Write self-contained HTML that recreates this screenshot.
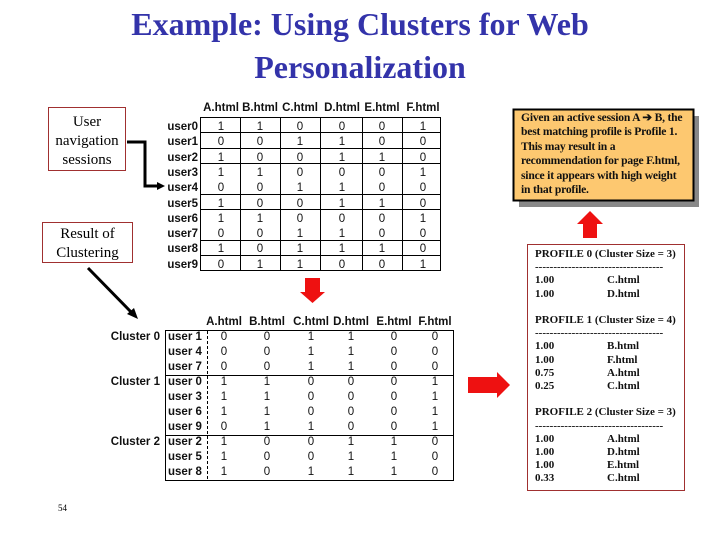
<!DOCTYPE html>
<html><head><meta charset="utf-8"><style>
body{margin:0;width:720px;height:540px;background:#fff;position:relative;overflow:hidden;font-family:"Liberation Serif",serif}
.a{position:absolute}
.t{font-family:"Liberation Sans",sans-serif;font-size:11.5px;color:#111}
.title{left:0;width:720px;text-align:center;color:#3333aa;font-size:32px;line-height:43px;font-weight:bold}
.box{border:1px solid #a03030;background:#fff;text-align:center;font-size:15px;line-height:19px}
.c{text-align:center;width:30px}
.pr{font-weight:bold;font-size:11px;line-height:13.2px;color:#111}
</style></head><body>
<div class="a title" style="top:3px">Example: Using Clusters for Web<br>Personalization</div>

<div class="a box" style="left:48px;top:107px;width:78px;height:64px;padding-top:5px;box-sizing:border-box">User<br>navigation<br>sessions</div>
<div class="a box" style="left:42px;top:222px;width:91px;height:41px;padding-top:2px;box-sizing:border-box">Result of<br>Clustering</div>

<svg class="a" style="left:0;top:0" width="720" height="540">
<polyline points="127,142 145,142 145,186 158,186" fill="none" stroke="#000" stroke-width="3"/>
<polygon points="157,182 165,186 157,190" fill="#000"/>
<line x1="88" y1="268" x2="132" y2="313" stroke="#000" stroke-width="3"/>
<polygon points="127,314 138,319 134,308" fill="#000"/>
<rect x="200.5" y="117.5" width="240" height="153" fill="none" stroke="#000"/>
<g stroke="#000">
<line x1="240.5" y1="117" x2="240.5" y2="270"/><line x1="280.5" y1="117" x2="280.5" y2="270"/>
<line x1="320.5" y1="117" x2="320.5" y2="270"/><line x1="362.5" y1="117" x2="362.5" y2="270"/>
<line x1="402.5" y1="117" x2="402.5" y2="270"/>
<line x1="200" y1="132.5" x2="440" y2="132.5"/><line x1="200" y1="148.5" x2="440" y2="148.5"/>
<line x1="200" y1="163.5" x2="440" y2="163.5"/><line x1="200" y1="194.5" x2="440" y2="194.5"/>
<line x1="200" y1="209.5" x2="440" y2="209.5"/><line x1="200" y1="240.5" x2="440" y2="240.5"/>
<line x1="200" y1="255.5" x2="440" y2="255.5"/>
</g>
<rect x="165.5" y="330.5" width="288" height="150" fill="none" stroke="#000"/>
<line x1="165" y1="375.5" x2="453" y2="375.5" stroke="#000"/>
<line x1="165" y1="435.5" x2="453" y2="435.5" stroke="#000"/>
<line x1="207.5" y1="331" x2="207.5" y2="480" stroke="#000" stroke-dasharray="3,2"/>
<polygon points="305,278 320,278 320,292 325,292 312.5,303 300,292 305,292" fill="#ee1111"/>
<polygon points="468,377 497,377 497,372 510,385 497,398 497,393 468,393" fill="#ee1111"/>
<polygon points="583,238 597,238 597,224 603,224 590,211 577,224 583,224" fill="#ee1111"/>
<rect x="519" y="116" width="180" height="91" fill="#888"/>
<rect x="513.5" y="109.5" width="180" height="91" fill="#fdc870" stroke="#000" stroke-width="2"/>
<rect x="527.5" y="244.5" width="157" height="246" fill="#fff" stroke="#a03030"/>
</svg>

<div class="a pr" style="left:521px;top:111px;width:166px;font-size:11.6px;line-height:14.4px;letter-spacing:-0.2px">Given an active session A &#x2794; B, the best matching profile is Profile 1. This may result in a recommendation for page F.html, since it appears with high weight in that profile.</div>

<div class="a pr" style="left:535px;top:248px;width:150px">
PROFILE 0 (Cluster Size = 3)<br>-----------------------------------<br>
1.00<span style="position:absolute;left:72px">C.html</span><br>1.00<span style="position:absolute;left:72px">D.html</span><br><br>
PROFILE 1 (Cluster Size = 4)<br>-----------------------------------<br>
1.00<span style="position:absolute;left:72px">B.html</span><br>1.00<span style="position:absolute;left:72px">F.html</span><br>
0.75<span style="position:absolute;left:72px">A.html</span><br>0.25<span style="position:absolute;left:72px">C.html</span><br><br>
PROFILE 2 (Cluster Size = 3)<br>-----------------------------------<br>
1.00<span style="position:absolute;left:72px">A.html</span><br>1.00<span style="position:absolute;left:72px">D.html</span><br>
1.00<span style="position:absolute;left:72px">E.html</span><br>0.33<span style="position:absolute;left:72px">C.html</span>
</div>

<div class="a" style="left:58px;top:503px;font-size:9px">54</div>

<div id="top"></div>
<script>
(function(){
var h=["A.html","B.html","C.html","D.html","E.html","F.html"];
var d=["110001","001100","100110","110001","001100","100110","110001","001100","101110","011001"];
var cx=[221,260,300,342,382,423],s="";
for(var j=0;j<6;j++)s+='<div class="a t" style="left:'+(cx[j]-25)+'px;top:102px;width:50px;text-align:center;font-weight:bold">'+h[j]+'</div>';
for(var i=0;i<10;i++){var y=121+i*15.3;
s+='<div class="a t" style="left:150px;top:'+y+'px;width:48px;text-align:right;font-weight:bold">user'+i+'</div>';
for(var j=0;j<6;j++)s+='<div class="a t c" style="left:'+(cx[j]-15)+'px;top:'+y+'px">'+d[i][j]+'</div>';}
var cx2=[224,267,311,351,394,435];
var u=[1,4,7,0,3,6,9,2,5,8];
for(var j=0;j<6;j++)s+='<div class="a t" style="left:'+(cx2[j]-25)+'px;top:316px;width:50px;text-align:center;font-weight:bold">'+h[j]+'</div>';
for(var i=0;i<10;i++){var y=331+i*15;
s+='<div class="a t" style="left:168px;top:'+y+'px;font-weight:bold">user '+u[i]+'</div>';
for(var j=0;j<6;j++)s+='<div class="a t c" style="left:'+(cx2[j]-15)+'px;top:'+y+'px">'+d[u[i]][j]+'</div>';}
var cl=[[0,331],[1,376],[2,436]];
for(var k=0;k<3;k++)s+='<div class="a t" style="left:90px;top:'+cl[k][1]+'px;width:70px;text-align:right;font-weight:bold">Cluster '+cl[k][0]+'</div>';
document.getElementById("top").innerHTML=s;
})();
</script>
</body></html>
